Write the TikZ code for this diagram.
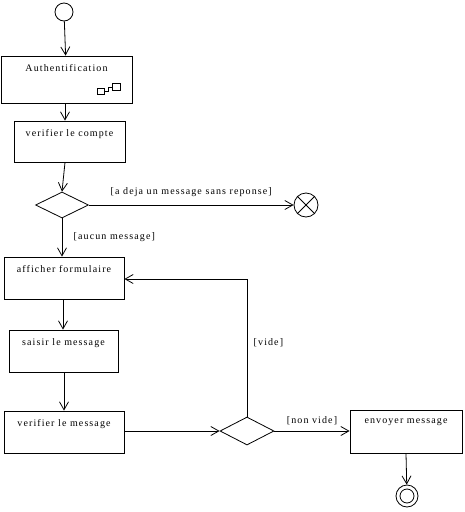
\documentclass[tikz,border=0pt]{standalone}
\usepackage{fontspec}
\setmainfont{Liberation Serif}[LetterSpace=11]
\usetikzlibrary{shapes.geometric,arrows.meta}

\begin{document}
\begin{tikzpicture}[x=1pt,y=-1pt,font=\fontsize{10}{12}\selectfont,
  line width=0.8pt,
  act/.style={draw,rectangle,inner sep=0pt},
  choice/.style={draw,diamond,inner sep=0pt},
  flow/.style={-{Straight Barb[length=8pt,width=9pt]}}]
\useasboundingbox (0,0) rectangle (464,512);
%Start with the initial state, then each activity box going down
% the text of an activity sits at the top of its box
\node[draw,circle,minimum size=18pt,inner sep=0pt](start) at (64,12){};
\node[act,minimum width=131pt,minimum height=47pt,
  label={[anchor=north,yshift=-5pt]north:Authentification}](auth) at (66.5,79.5){};
\node[act,minimum width=111pt,minimum height=41pt,
  label={[anchor=north,yshift=-5pt]north:verifier le compte}](compte) at (69.5,141.5){};
\node[choice,minimum width=53pt,minimum height=26pt](test) at (62,205){};
\node[draw,circle,minimum size=24pt,inner sep=0pt](stop) at (306,205){};
\node[act,minimum width=120pt,minimum height=42pt,
  label={[anchor=north,yshift=-5pt]north:afficher formulaire}](form) at (64,278){};
\node[act,minimum width=109pt,minimum height=42pt,
  label={[anchor=north,yshift=-5pt]north:saisir le message}](saisir) at (63.5,351){};
\node[act,minimum width=120pt,minimum height=42pt,
  label={[anchor=north,yshift=-5pt]north:verifier le message}](verif) at (64,432){};
\node[choice,minimum width=54pt,minimum height=28pt](vide) at (247,431){};
\node[act,minimum width=112pt,minimum height=43pt,
  label={[anchor=north,yshift=-5pt]north:envoyer message}](envoi) at (406,431.5){};
\node[draw,circle,minimum size=22pt,inner sep=0pt](fin) at (407,496){};
\node[draw,circle,minimum size=14pt,inner sep=0pt](finb) at (407,496){};
% the little icon of the sub activity
\draw (97,88) rectangle (104,94);
\draw (112,83) rectangle (120,90);
\draw (104,91) -- (108,91) -- (108,87) -- (112,87);
% cross in the stop state
\draw (stop.north west) -- (stop.south east);
\draw (stop.north east) -- (stop.south west);
% transitions
\draw[flow] (start) -- (auth);
\draw[flow] (auth.south -| 65,0) -- (compte.north -| 65,0);
\draw[flow] (compte.south -| 65,0) -- (test.north);
\draw[flow] (test.east) -- (stop)
  node[midway,above=5pt]{[a deja un message sans reponse]};
\draw[flow] (test.south) -- (form.north -| test.south)
  node[pos=0.5,right=8pt]{[aucun message]};
\draw[flow] (form.south -| 63,0) -- (saisir.north -| 63,0);
\draw[flow] (saisir.south -| 64,0) -- (verif.north -| 64,0);
\draw[flow] (verif.east |- vide) -- (vide.west);
\draw[flow] (vide.north) -- (vide.north |- 0,279)
  node[pos=0.54,right=3pt]{[vide]} -- (form.east |- 0,279);
\draw[flow] (vide.east) -- (envoi.west |- vide)
  node[midway,above=2pt]{[non vide]};
\draw[flow] (envoi.south) -- (fin);
\end{tikzpicture}
\end{document}
